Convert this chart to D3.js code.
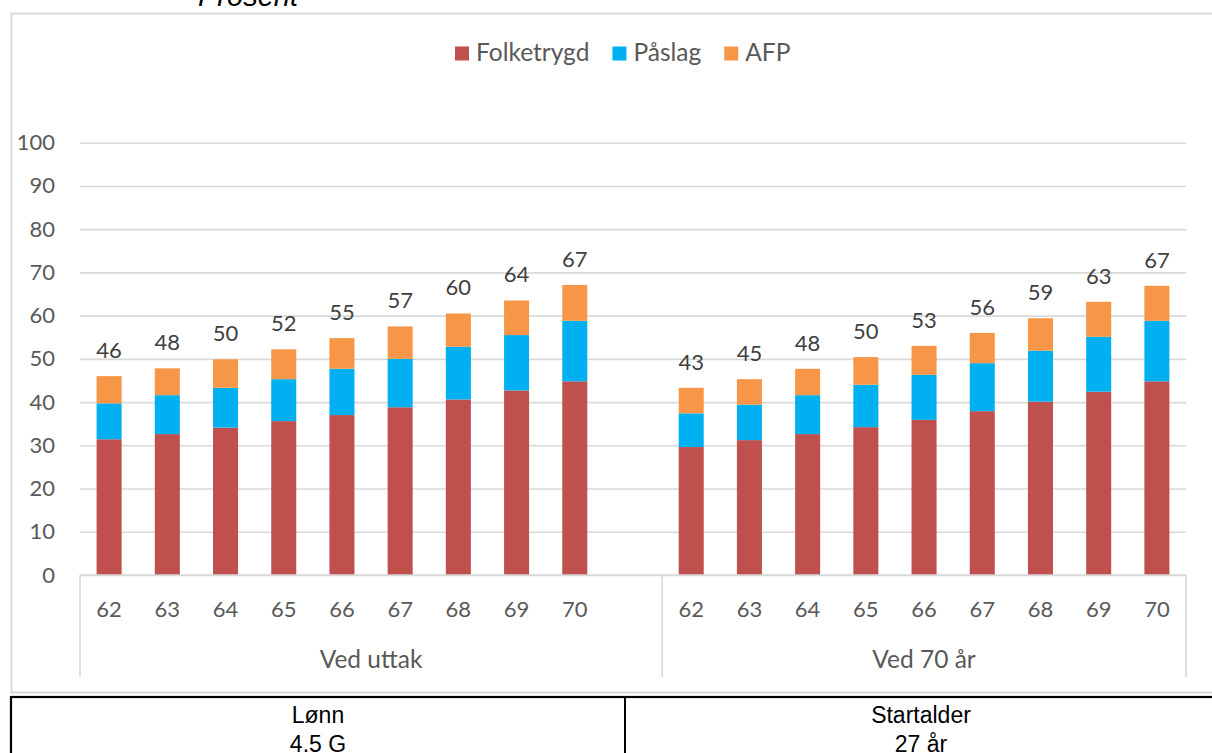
<!DOCTYPE html>
<html>
<head>
<meta charset="utf-8">
<script src="https://cdn.jsdelivr.net/npm/d3@7"></script>
<style>
  body { margin: 0; background: #fff; overflow: hidden; }
  svg { display: block; }
</style>
</head>
<body>
<div id="root"></div>
<script>
// data (prosent)
var ages = ["62", "63", "64", "65", "66", "67", "68", "69", "70"];
var groups = ["Ved uttak", "Ved 70 år"];
var seriesNames = ["Folketrygd", "Påslag", "AFP"];
var seriesColors = ["#C0504D", "#00B0F0", "#F79646"];

var folketrygdUttak = [31.4, 32.6, 34.1, 35.6, 37.0, 38.8, 40.6, 42.7, 44.8];
var paslagUttak     = [8.3, 9.0, 9.2, 9.7, 10.7, 11.2, 12.2, 12.8, 14.0];
var afpUttak        = [6.3, 6.2, 6.6, 6.9, 7.1, 7.5, 7.7, 8.0, 8.3];
var totalUttak      = ["46", "48", "50", "52", "55", "57", "60", "64", "67"];

var folketrygd70 = [29.6, 31.2, 32.6, 34.2, 35.9, 37.9, 40.1, 42.4, 44.8];
var paslag70     = [7.8, 8.2, 9.0, 9.8, 10.4, 11.1, 11.8, 12.7, 14.0];
var afp70        = [5.9, 5.9, 6.1, 6.4, 6.7, 7.0, 7.5, 8.1, 8.1];
var total70      = ["43", "45", "48", "50", "53", "56", "59", "63", "67"];

var yTicks = [0, 10, 20, 30, 40, 50, 60, 70, 80, 90, 100];
var tableHead = ["Lønn", "Startalder"];
var tableValue = ["4.5 G", "27 år"];

var width = 1212,
    height = 753,
    plot = { left: 80, right: 1186, top: 142.7, bottom: 575 };

var rows = [];
ages.forEach(function (a, i) {
    rows.push({ key: "u" + a, age: a, group: 0, Folketrygd: folketrygdUttak[i], "Påslag": paslagUttak[i], AFP: afpUttak[i], label: totalUttak[i] });
});
// tom kategori mellom gruppene
var blankKey = "blank";
ages.forEach(function (a, i) {
    rows.push({ key: "s" + a, age: a, group: 1, Folketrygd: folketrygd70[i], "Påslag": paslag70[i], AFP: afp70[i], label: total70[i] });
});
var slots = rows.slice(0, 9).map(function (d) { return d.key; })
    .concat([blankKey])
    .concat(rows.slice(9).map(function (d) { return d.key; }));

var svg = d3.select("#root")
    .append("svg")
    .attr("width", width)
    .attr("height", height);

var font = "Lato, 'Open Sans', sans-serif";

// "Prosent" (avskåret i toppen, som i originalen)
svg.append("text")
    .attr("x", 198)
    .attr("y", 6)
    .style("font-family", "'Liberation Sans', Arial, sans-serif")
    .style("font-style", "italic")
    .style("font-size", "29px")
    .style("fill", "#000")
    .text("Prosent");

// chart frame
svg.append("rect")
    .attr("x", 11.5)
    .attr("y", 13.5)
    .attr("width", 1220)
    .attr("height", 679)
    .style("fill", "#fff")
    .style("stroke", "#d9d9d9")
    .style("stroke-width", 2);

var x = d3.scaleBand()
    .domain(slots)
    .range([plot.left, plot.right])
    .paddingInner(0.57)
    .paddingOuter(0.285);

var y = d3.scaleLinear()
    .domain([0, 100])
    .range([plot.bottom, plot.top]);

var color = d3.scaleOrdinal().domain(seriesNames).range(seriesColors);

// gridlines + y labels
var yAxis = svg.append("g")
    .attr("transform", "translate(" + plot.left + ",0)")
    .call(d3.axisLeft(y)
        .tickValues(yTicks)
        .tickSize(-(plot.right - plot.left))
        .tickPadding(25));
yAxis.select(".domain").remove();
yAxis.selectAll("line")
    .style("stroke", "#d9d9d9")
    .style("stroke-width", 1.6);
yAxis.selectAll("text")
    .style("font-family", font)
    .style("font-size", "22px")
    .style("fill", "#595959");

// stacked bars
var stack = d3.stack().keys(seriesNames);
var layers = stack(rows);

svg.append("g")
    .selectAll("g")
    .data(layers)
    .enter()
    .append("g")
    .style("fill", function (d) { return color(d.key); })
    .selectAll("rect")
    .data(function (d) { return d; })
    .enter()
    .append("rect")
    .attr("x", function (d) { return x(d.data.key); })
    .attr("y", function (d) { return y(d[1]); })
    .attr("width", x.bandwidth())
    .attr("height", function (d) { return y(d[0]) - y(d[1]); });

// total labels
svg.append("g")
    .selectAll("text")
    .data(rows)
    .enter()
    .append("text")
    .attr("x", function (d) { return x(d.key) + x.bandwidth() / 2; })
    .attr("y", function (d) { return y(d.Folketrygd + d["Påslag"] + d.AFP) - 18; })
    .attr("text-anchor", "middle")
    .style("font-family", font)
    .style("font-size", "22px")
    .style("fill", "#404040")
    .text(function (d) { return d.label; });

// category axis
var axisColor = "#d9d9d9";
svg.append("line")
    .attr("x1", plot.left).attr("x2", plot.right)
    .attr("y1", plot.bottom).attr("y2", plot.bottom)
    .style("stroke", axisColor).style("stroke-width", 1.6);

// grensen går etter den tomme kategorien
var sepX = [plot.left, x(blankKey) - x.step() * 0.285 + x.step(), plot.right];
svg.append("g")
    .selectAll("line")
    .data(sepX)
    .enter()
    .append("line")
    .attr("x1", function (d) { return d; })
    .attr("x2", function (d) { return d; })
    .attr("y1", plot.bottom)
    .attr("y2", 677)
    .style("stroke", axisColor)
    .style("stroke-width", 1.6);

svg.append("g")
    .selectAll("text")
    .data(rows)
    .enter()
    .append("text")
    .attr("x", function (d) { return x(d.key) + x.bandwidth() / 2; })
    .attr("y", 617)
    .attr("text-anchor", "middle")
    .style("font-family", font)
    .style("font-size", "22px")
    .style("fill", "#595959")
    .text(function (d) { return d.age; });

svg.append("g")
    .selectAll("text")
    .data(groups)
    .enter()
    .append("text")
    .attr("x", function (d, i) { return (sepX[i] + sepX[i + 1]) / 2; })
    .attr("y", 668)
    .attr("text-anchor", "middle")
    .style("font-family", font)
    .style("font-size", "24.5px")
    .style("fill", "#595959")
    .text(function (d) { return d; });

// legend
var legend = svg.append("g").attr("transform", "translate(455,0)");
var lx = 0;
seriesNames.forEach(function (name) {
    legend.append("rect")
        .attr("x", lx)
        .attr("y", 46.5)
        .attr("width", 14)
        .attr("height", 14)
        .style("fill", color(name));
    var t = legend.append("text")
        .attr("x", lx + 21)
        .attr("y", 61)
        .style("font-family", font)
        .style("font-size", "24.5px")
        .style("fill", "#595959")
        .text(name);
    lx += 21 + t.node().getComputedTextLength() + 23;
});

// table below
var tableTop = 697;
svg.append("rect")
    .attr("x", 11)
    .attr("y", tableTop)
    .attr("width", 1230)
    .attr("height", 100)
    .style("fill", "none")
    .style("stroke", "#000")
    .style("stroke-width", 2.2);
svg.append("line")
    .attr("x1", 625).attr("x2", 625)
    .attr("y1", tableTop).attr("y2", height)
    .style("stroke", "#000")
    .style("stroke-width", 2);

var cellCenters = [318, 921];
tableHead.forEach(function (h, i) {
    svg.append("text")
        .attr("x", cellCenters[i])
        .attr("y", 723)
        .attr("text-anchor", "middle")
        .style("font-family", "'Liberation Sans', Arial, sans-serif")
        .style("font-size", "23px")
        .style("fill", "#000")
        .text(h);
    svg.append("text")
        .attr("x", cellCenters[i])
        .attr("y", 752)
        .attr("text-anchor", "middle")
        .style("font-family", "'Liberation Sans', Arial, sans-serif")
        .style("font-size", "23px")
        .style("fill", "#000")
        .text(tableValue[i]);
});
</script>
</body>
</html>
